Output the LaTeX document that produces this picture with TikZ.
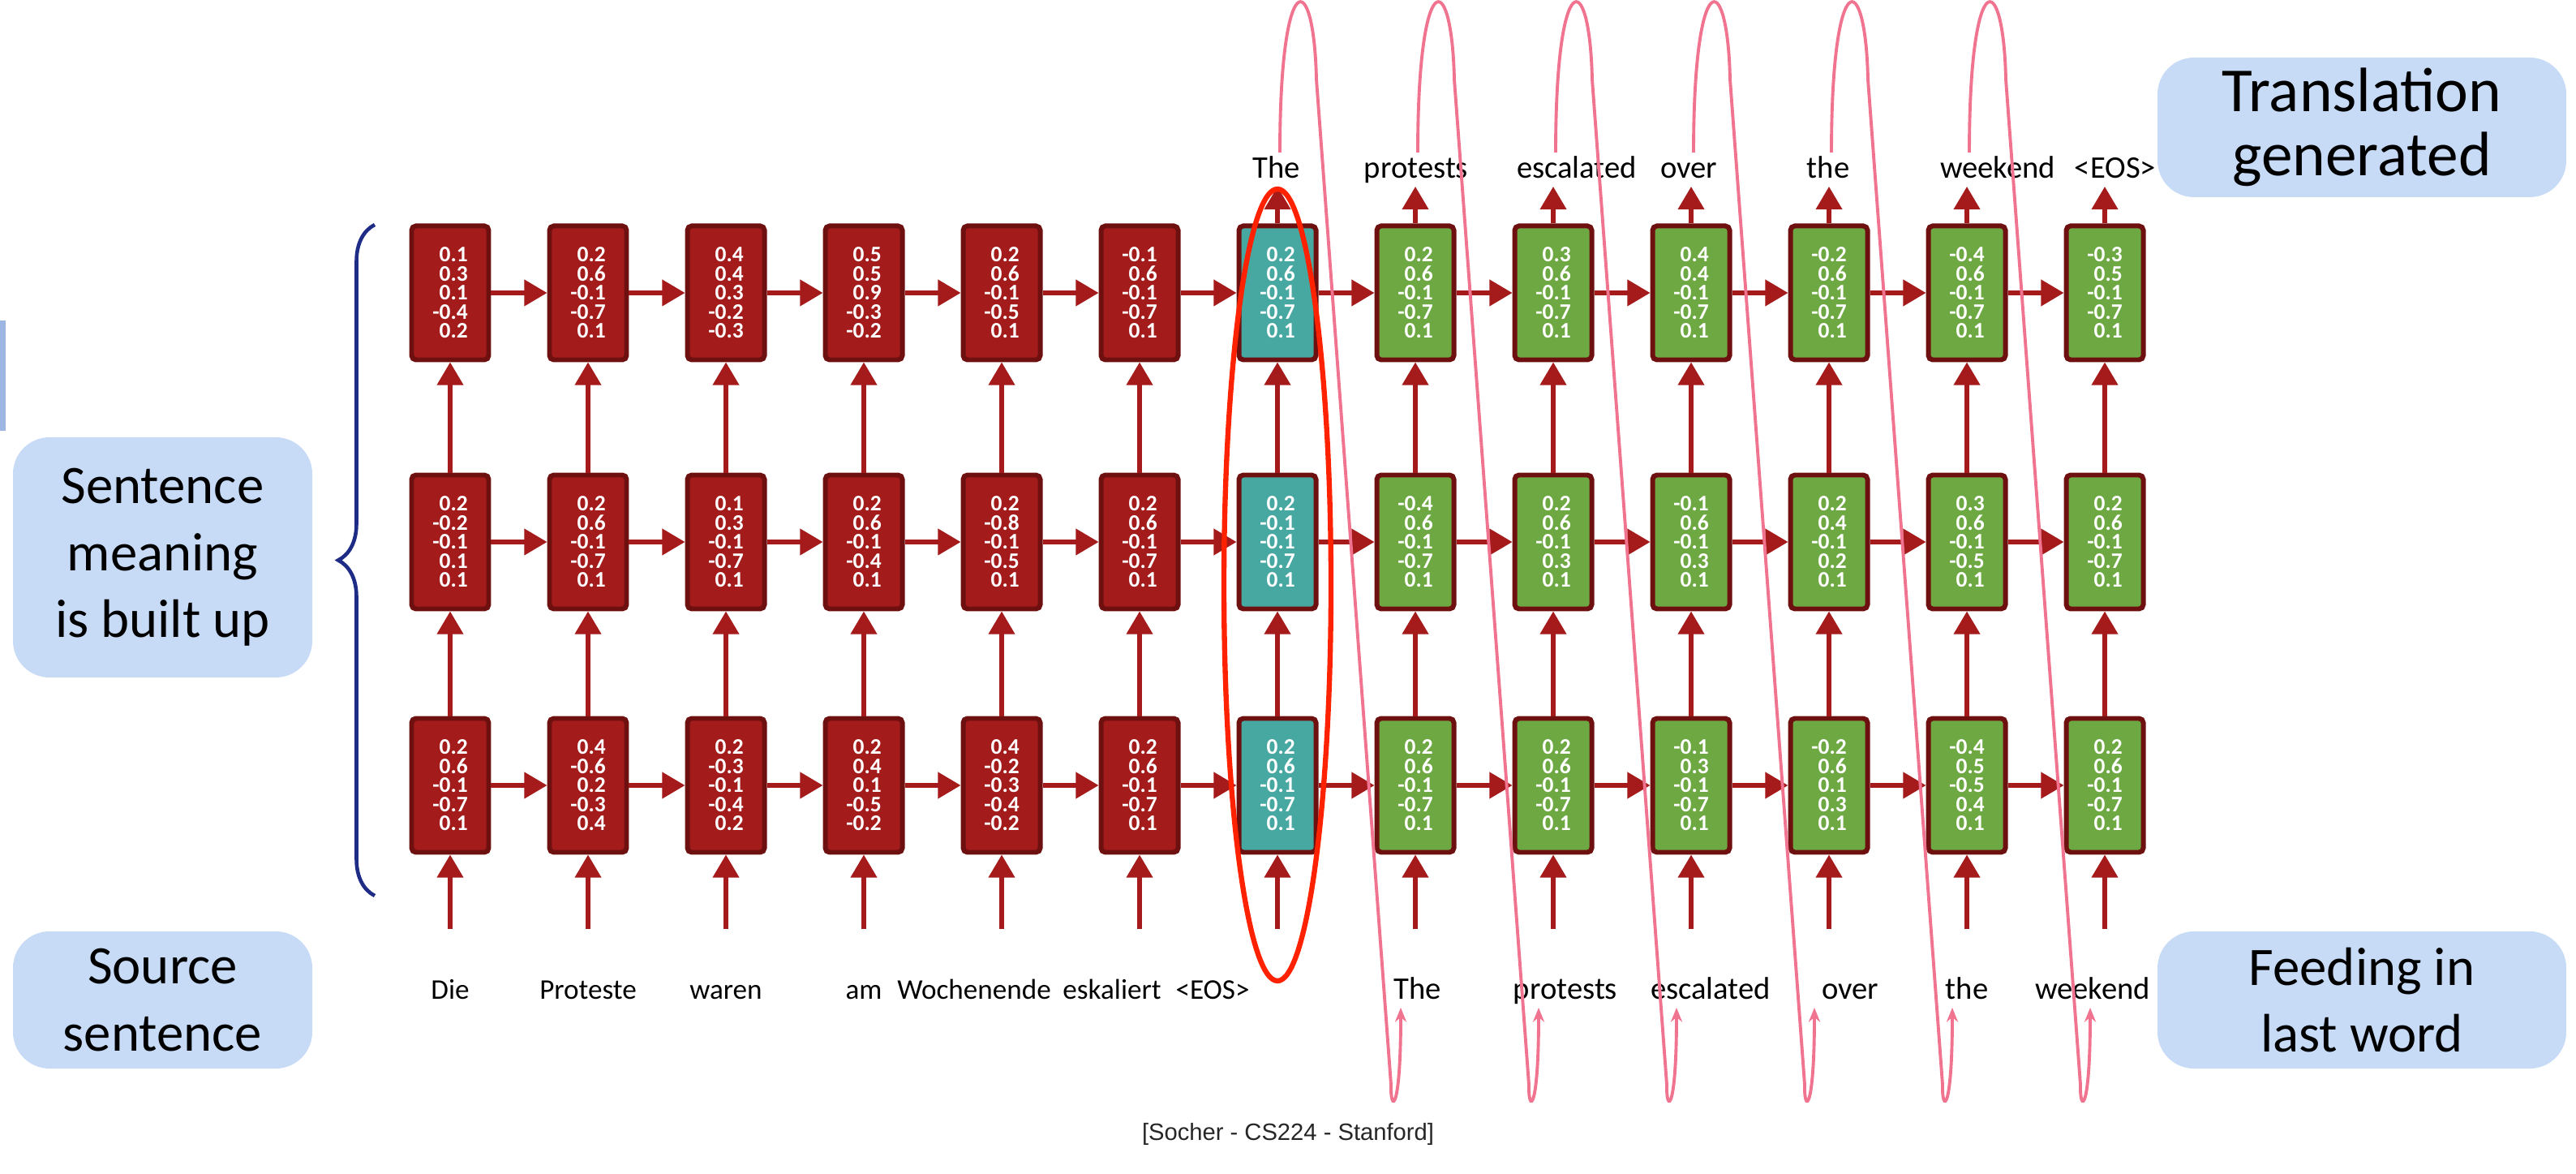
\documentclass[tikz,border=0pt]{standalone}
\usepackage{fontspec}
\setmainfont{Carlito}
\newfontfamily\citefont{Liberation Sans}
\usetikzlibrary{arrows.meta, calc, decorations.pathreplacing}

\definecolor{encred}{HTML}{A31B1B}
\definecolor{boxedge}{HTML}{6E1010}
\definecolor{decgreen}{HTML}{6DA843}
\definecolor{eosteal}{HTML}{47A7A1}
\definecolor{arrowred}{HTML}{A51A1A}
\definecolor{labelblue}{HTML}{C7DBF7}
\definecolor{edgeblue}{HTML}{9DB6E2}
\definecolor{bracenavy}{HTML}{1E2C86}
\definecolor{loopink}{HTML}{F0738F}
\definecolor{ringred}{HTML}{FF2200}

\newcommand{\cellvals}[5]{#1\\#2\\#3\\#4\\#5}

\tikzset{
    cell/.style={rectangle, draw=boxedge, line width=1.7pt, rounded corners=1.5pt,
        minimum width=0.95cm, minimum height=1.65cm, inner sep=0pt, text=white,
        align=right, font=\bfseries\fontsize{7.8}{6.7}\selectfont},
    enc/.style={cell, fill=encred},
    dec/.style={cell, fill=decgreen},
    eos/.style={cell, fill=eosteal},
    word/.style={font=\fontsize{10}{12}\selectfont, text height=1.6ex, text depth=0.4ex, inner sep=1pt},
    engword/.style={word, font=\fontsize{11}{13}\selectfont},
    note/.style={rectangle, rounded corners=0.45cm, fill=labelblue, align=center,
        font=\fontsize{19}{23.5}\selectfont},
    flow/.style={arrowred, line width=1.5pt, -{Triangle[length=8pt,width=9pt]}},
    feed/.style={loopink, line width=1.1pt, -{Stealth[length=5pt,width=4pt]}},
    ring/.style={ringred, line width=1.8pt}
}

\begin{document}
\begin{tikzpicture}
        \useasboundingbox (0,0) rectangle (31.76,14.46);

        % Bottom layer
        \node[enc] (bot1) at (5.55, 4.78) {\cellvals{0.2}{0.6}{-0.1}{-0.7}{0.1}};
        \node[enc] (bot2) at (7.25, 4.78) {\cellvals{0.4}{-0.6}{0.2}{-0.3}{0.4}};
        \node[enc] (bot3) at (8.95, 4.78) {\cellvals{0.2}{-0.3}{-0.1}{-0.4}{0.2}};
        \node[enc] (bot4) at (10.65, 4.78) {\cellvals{0.2}{0.4}{0.1}{-0.5}{-0.2}};
        \node[enc] (bot5) at (12.35, 4.78) {\cellvals{0.4}{-0.2}{-0.3}{-0.4}{-0.2}};
        \node[enc] (bot6) at (14.05, 4.78) {\cellvals{0.2}{0.6}{-0.1}{-0.7}{0.1}};
        \node[eos] (bot7) at (15.75, 4.78) {\cellvals{0.2}{0.6}{-0.1}{-0.7}{0.1}};
        \node[dec] (bot8) at (17.45, 4.78) {\cellvals{0.2}{0.6}{-0.1}{-0.7}{0.1}};
        \node[dec] (bot9) at (19.15, 4.78) {\cellvals{0.2}{0.6}{-0.1}{-0.7}{0.1}};
        \node[dec] (bot10) at (20.85, 4.78) {\cellvals{-0.1}{0.3}{-0.1}{-0.7}{0.1}};
        \node[dec] (bot11) at (22.55, 4.78) {\cellvals{-0.2}{0.6}{0.1}{0.3}{0.1}};
        \node[dec] (bot12) at (24.25, 4.78) {\cellvals{-0.4}{0.5}{-0.5}{0.4}{0.1}};
        \node[dec] (bot13) at (25.95, 4.78) {\cellvals{0.2}{0.6}{-0.1}{-0.7}{0.1}};

        % Middle layer
        \node[enc] (mid1) at (5.55, 7.78) {\cellvals{0.2}{-0.2}{-0.1}{0.1}{0.1}};
        \node[enc] (mid2) at (7.25, 7.78) {\cellvals{0.2}{0.6}{-0.1}{-0.7}{0.1}};
        \node[enc] (mid3) at (8.95, 7.78) {\cellvals{0.1}{0.3}{-0.1}{-0.7}{0.1}};
        \node[enc] (mid4) at (10.65, 7.78) {\cellvals{0.2}{0.6}{-0.1}{-0.4}{0.1}};
        \node[enc] (mid5) at (12.35, 7.78) {\cellvals{0.2}{-0.8}{-0.1}{-0.5}{0.1}};
        \node[enc] (mid6) at (14.05, 7.78) {\cellvals{0.2}{0.6}{-0.1}{-0.7}{0.1}};
        \node[eos] (mid7) at (15.75, 7.78) {\cellvals{0.2}{-0.1}{-0.1}{-0.7}{0.1}};
        \node[dec] (mid8) at (17.45, 7.78) {\cellvals{-0.4}{0.6}{-0.1}{-0.7}{0.1}};
        \node[dec] (mid9) at (19.15, 7.78) {\cellvals{0.2}{0.6}{-0.1}{0.3}{0.1}};
        \node[dec] (mid10) at (20.85, 7.78) {\cellvals{-0.1}{0.6}{-0.1}{0.3}{0.1}};
        \node[dec] (mid11) at (22.55, 7.78) {\cellvals{0.2}{0.4}{-0.1}{0.2}{0.1}};
        \node[dec] (mid12) at (24.25, 7.78) {\cellvals{0.3}{0.6}{-0.1}{-0.5}{0.1}};
        \node[dec] (mid13) at (25.95, 7.78) {\cellvals{0.2}{0.6}{-0.1}{-0.7}{0.1}};

        % Top layer
        \node[enc] (top1) at (5.55, 10.85) {\cellvals{0.1}{0.3}{0.1}{-0.4}{0.2}};
        \node[enc] (top2) at (7.25, 10.85) {\cellvals{0.2}{0.6}{-0.1}{-0.7}{0.1}};
        \node[enc] (top3) at (8.95, 10.85) {\cellvals{0.4}{0.4}{0.3}{-0.2}{-0.3}};
        \node[enc] (top4) at (10.65, 10.85) {\cellvals{0.5}{0.5}{0.9}{-0.3}{-0.2}};
        \node[enc] (top5) at (12.35, 10.85) {\cellvals{0.2}{0.6}{-0.1}{-0.5}{0.1}};
        \node[enc] (top6) at (14.05, 10.85) {\cellvals{-0.1}{0.6}{-0.1}{-0.7}{0.1}};
        \node[eos] (top7) at (15.75, 10.85) {\cellvals{0.2}{0.6}{-0.1}{-0.7}{0.1}};
        \node[dec] (top8) at (17.45, 10.85) {\cellvals{0.2}{0.6}{-0.1}{-0.7}{0.1}};
        \node[dec] (top9) at (19.15, 10.85) {\cellvals{0.3}{0.6}{-0.1}{-0.7}{0.1}};
        \node[dec] (top10) at (20.85, 10.85) {\cellvals{0.4}{0.4}{-0.1}{-0.7}{0.1}};
        \node[dec] (top11) at (22.55, 10.85) {\cellvals{-0.2}{0.6}{-0.1}{-0.7}{0.1}};
        \node[dec] (top12) at (24.25, 10.85) {\cellvals{-0.4}{0.6}{-0.1}{-0.7}{0.1}};
        \node[dec] (top13) at (25.95, 10.85) {\cellvals{-0.3}{0.5}{-0.1}{-0.7}{0.1}};

        % Side notes
        \fill[edgeblue] (0, 9.15) rectangle (0.07, 10.51);
        \node[note, minimum width=3.69cm, minimum height=2.96cm] (built) at (2.005, 7.59) {Sentence\\meaning\\is built up};
        \node[note, minimum width=3.69cm, minimum height=1.69cm] (source) at (2.005, 2.135) {Source\\sentence};
        \node[note, minimum width=5.04cm, minimum height=1.72cm, font=\fontsize{22}{22.5}\selectfont] (generated) at (29.12, 12.89) {Translation\\generated};
        \node[note, minimum width=5.04cm, minimum height=1.69cm] (feeding) at (29.12, 2.135) {Feeding in\\last word};
        \draw[bracenavy, line width=1.3pt, decorate, decoration={brace, amplitude=0.45cm}] (4.62, 3.42) -- (4.62, 11.69);

        % Source words
        \node[word] (src1) at (5.55, 2.25) {Die};
        \node[word] (src2) at (7.25, 2.25) {Proteste};
        \node[word] (src3) at (8.95, 2.25) {waren};
        \node[word] (src4) at (10.65, 2.25) {am};
        \node[word] (src5) at (12.01, 2.25) {Wochenende};
        \node[word] (src6) at (13.71, 2.25) {eskaliert};
        \node[word] (src7) at (14.95, 2.25) {<EOS>};
        \node[engword] (src8) at (17.48, 2.25) {The};
        \node[engword] (src9) at (19.30, 2.25) {protests};
        \node[engword] (src10) at (21.09, 2.25) {escalated};
        \node[engword] (src11) at (22.81, 2.25) {over};
        \node[engword] (src12) at (24.25, 2.25) {the};
        \node[engword] (src13) at (25.80, 2.25) {weekend};

        % Generated words
        \node[engword] (out7) at (15.74, 12.37) {The};
        \node[engword] (out8) at (17.46, 12.37) {protests};
        \node[engword] (out9) at (19.44, 12.37) {escalated};
        \node[engword] (out10) at (20.82, 12.37) {over};
        \node[engword] (out11) at (22.54, 12.37) {the};
        \node[engword] (out12) at (24.63, 12.37) {weekend};
        \node[engword] (out13) at (26.08, 12.37) {<EOS>};

        % Connections
        \foreach \i [count=\j from 2] in {1,...,12} {
            \draw[flow] (bot\i) -- (bot\j);
            \draw[flow] (mid\i) -- (mid\j);
            \draw[flow] (top\i) -- (top\j);
        }
        \foreach \i in {1,...,13} {
            \draw[flow] (bot\i) -- (mid\i);
            \draw[flow] (mid\i) -- (top\i);
            \draw[flow, shorten <=0.55cm] (bot\i.south |- src\i.north) -- (bot\i.south);
        }
        \foreach \i in {7,...,13}
            \draw[flow] (top\i.north) -- (top\i.north |- out\i.south);

        % Highlight and feedback loops
        \draw[ring] ($(mid7)+(0,-0.53)$) ellipse (0.66 and 4.88);
        \foreach \i [count=\j from 8] in {7,...,12} {
            \coordinate (ls) at ($(top\i.north |- out\i.north)+(0.03,0)$);
            \coordinate (le) at ($(bot\j.south |- src\j.south)+(-0.18,0)$);
            \draw[feed] (ls) .. controls ($(ls)+(0,2.3)$) and ($(ls)+(0.42,2.3)$) .. ($(ls)+(0.45,0.9)$)
                -- ($(le)+(-0.12,-0.95)$) .. controls ($(le)+(-0.13,-1.3)$) and ($(le)+(0,-1.3)$) .. (le);
        }

        \node[font=\citefont\fontsize{8.3}{10}\selectfont, text=black!85] (credit) at (15.88, 0.48) {[Socher - CS224 - Stanford]};
    \end{tikzpicture}
\end{document}
